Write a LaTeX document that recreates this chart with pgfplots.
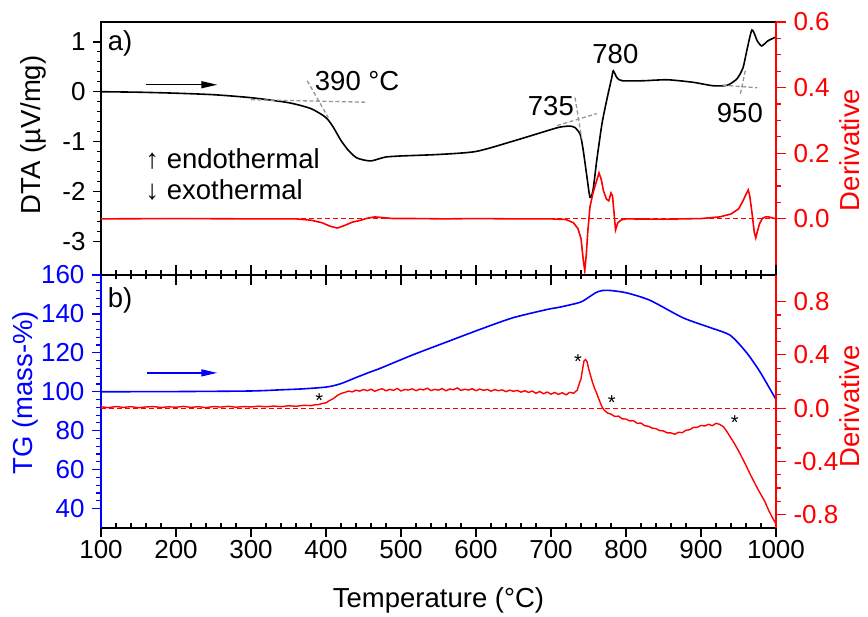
\documentclass[border=0pt]{standalone}
\usepackage{fontspec}
\setmainfont{Liberation Sans}
\usepackage{pgfplots}
\pgfplotsset{compat=1.18}
\usetikzlibrary{arrows.meta}
\definecolor{myred}{RGB}{255,0,0}
\definecolor{myblue}{RGB}{0,0,255}
\definecolor{dgray}{RGB}{150,150,150}
\tikzset{ann/.style={anchor=west, inner xsep=0pt, font=\fontsize{27.5}{32}\selectfont}}
\begin{document}
\begin{tikzpicture}[x=1pt,y=1pt]
\path[use as bounding box] (0,0) rectangle (868,617);
\pgfplotsset{
  every axis/.append style={scale only axis, width=675pt, height=253pt,
    xmin=100, xmax=1000,
    /pgf/number format/assume math mode=true,
    /pgf/number format/1000 sep={},
    tick label style={font=\fontsize{26}{30}\selectfont},
    label style={font=\fontsize{27.5}{32}\selectfont},
    axis line style={line width=1.3pt},
    every tick/.style={line width=1.2pt},
  },
}
% ---------- top panel: DTA (left) ----------
\begin{axis}[at={(101pt,342pt)}, anchor=south west,
  ymin=-3.68, ymax=1.4,
  xtick=\empty,
  ytick={-3,-2,-1,0,1}, minor y tick num=4,
  ytick pos=left, ytick align=outside,
  major tick length=8pt, minor tick length=4pt,
  yticklabel style={xshift=-4pt},
  ylabel={DTA (µV/mg)},
  ylabel style={at={(axis description cs:-0.1007,0.553)}, anchor=center},
]
\addplot[black, line width=1.6pt, smooth, tension=0.4] coordinates {
(100,0) (150,-0.01) (200,-0.03) (250,-0.06) (300,-0.12) (350,-0.22) (380,-0.34)
(400,-0.52) (410,-0.72) (420,-0.98) (430,-1.18) (440,-1.32) (450,-1.37) (460,-1.39)
(470,-1.35) (480,-1.31) (500,-1.29) (550,-1.26) (600,-1.20) (650,-0.99) (700,-0.76)
(712,-0.71) (725,-0.69) (732,-0.72) (739,-0.86) (743,-1.18) (748,-1.72) (752,-2.12)
(756,-1.98) (761,-1.38) (768,-0.64) (775,-0.12) (781,0.28) (783,0.42) (788,0.28)
(795,0.22) (823,0.22) (855,0.24) (889,0.19) (916,0.12) (935,0.13) (948,0.26)
(956,0.48) (961,0.82) (968,1.24) (975,1.02) (981,0.92) (989,1.02) (1000,1.1)
};
\addplot[dgray, line width=1.3pt, dash pattern=on 4pt off 2.5pt] coordinates {(300,-0.16) (452,-0.21)};
\addplot[dgray, line width=1.3pt, dash pattern=on 4pt off 2.5pt] coordinates {(375,0.22) (403,-0.52)};
\addplot[dgray, line width=1.3pt, dash pattern=on 4pt off 2.5pt] coordinates {(708,-0.68) (761,-0.44)};
\addplot[dgray, line width=1.3pt, dash pattern=on 4pt off 2.5pt] coordinates {(732,-0.12) (741,-0.94)};
\addplot[dgray, line width=1.3pt, dash pattern=on 4pt off 2.5pt] coordinates {(929,0.13) (975,0.08)};
\addplot[dgray, line width=1.3pt, dash pattern=on 4pt off 2.5pt] coordinates {(959,0.42) (952,-0.08)};
\draw[line width=1.3pt, -{Triangle[length=16pt,width=7pt]}] (axis cs:160,0.14) -- (axis cs:255,0.14);
\node[ann] at (axis cs:109,0.98) {a)};
\node[ann] at (axis cs:385,0.22) {390 °C};
\node[ann] at (axis cs:669,-0.28) {735};
\node[ann] at (axis cs:755,0.76) {780};
\node[ann] at (axis cs:921,-0.42) {950};
\node[ann] at (axis cs:159,-1.34) {↑ endothermal};
\node[ann] at (axis cs:159,-1.98) {↓ exothermal};
\end{axis}
% ---------- top panel: derivative (right) ----------
\begin{axis}[at={(101pt,342pt)}, anchor=south west,
  ymin=-0.171, ymax=0.6,
  axis x line=none, axis y line*=right,
  y axis line style={myred},
  ytick={0,0.2,0.4,0.6}, minor y tick num=3,
  ytick align=outside, major tick length=10pt, minor tick length=5pt,
  y tick style={myred}, y tick label style={myred},
  yticklabel style={xshift=4pt, /pgf/number format/.cd, fixed, fixed zerofill, precision=1},
  ylabel={Derivative}, ylabel style={myred, at={(axis description cs:1.1096,0.494)}, anchor=center},
]
\addplot[myred, line width=1pt, dash pattern=on 5pt off 3pt] coordinates {(100,0) (1000,0)};
\addplot[myred, line width=1.6pt] coordinates {
(100,0) (200,0.001) (300,0) (360,0) (380,-0.004) (395,-0.012) (405,-0.022) (415,-0.028)
(425,-0.02) (435,-0.01) (445,-0.005) (455,0.002) (465,0.006) (475,0.004) (490,0.001)
(520,0.001) (560,0) (600,0.001) (650,0) (700,0) (720,-0.002) (730,-0.012) (736,-0.03)
(740,-0.06) (743,-0.125) (745,-0.158) (747,-0.11) (749,-0.04) (752,0.037) (756,0.079)
(760,0.11) (764,0.14) (767,0.12) (770,0.085) (774,0.06) (777,0.055) (780,0.079)
(782,0.07) (784,0.02) (786,-0.034) (789,-0.012) (794,-0.003) (800,0) (850,-0.001)
(900,0.001) (925,0.006) (940,0.015) (950,0.03) (956,0.055) (960,0.075) (963,0.088)
(965,0.07) (968,0.018) (971,-0.04) (973,-0.058) (975,-0.04) (978,-0.015) (982,0.002)
(986,0.006) (990,0.006) (995,0.003) (1000,0)
};
\end{axis}
% ---------- top panel: x ticks on the shared line ----------
\begin{axis}[at={(101pt,342pt)}, anchor=south west,
  ymin=0, ymax=1,
  axis x line*=bottom, axis y line=none,
  xtick={100,200,...,1000}, minor x tick num=4, xticklabels={},
  xtick align=center, major tick length=20pt, minor tick length=9pt,
]
\end{axis}
% ---------- bottom panel: TG (left) ----------
\begin{axis}[at={(101pt,89pt)}, anchor=south west,
  ymin=30, ymax=160,
  axis x line*=bottom, axis y line*=left,
  y axis line style={myblue},
  xtick={100,200,...,1000}, minor x tick num=4,
  ytick={40,60,...,160}, minor y tick num=4,
  tick align=outside, major tick length=9pt, minor tick length=4.5pt,
  minor x tick style={yshift=4.5pt},
  y tick style={myblue}, y tick label style={myblue},
  yticklabel style={xshift=-4pt},
  xlabel={Temperature (°C)},
  xlabel style={at={(axis description cs:0.5,-0.316)}, anchor=base},
  ylabel={TG (mass-\%)},
  ylabel style={myblue, at={(axis description cs:-0.1126,0.534)}, anchor=center},
]
\addplot[myblue, line width=1.6pt, smooth, tension=0.4] coordinates {
(100,100) (200,100.1) (300,100.4) (340,101) (365,101.4) (385,101.9) (400,102.4)
(410,103.1) (420,104.2) (430,105.7) (440,107.3) (450,108.8) (460,110.3) (472,112)
(516,119) (561,125.6) (605,132) (649,138)
(695,142.3) (712,143.5) (739,146) (752,149) (760,151) (768,152) (780,152)
(801,150.8) (832,147) (876,138) (912,133) (939,129) (961,120) (979,110) (1000,96)
};
\draw[line width=1.3pt, myblue, -{Triangle[length=16pt,width=7pt]}] (axis cs:161,109.7) -- (axis cs:255,109.7);
\node[ann] at (axis cs:109,147.2) {b)};
\end{axis}
% ---------- bottom panel: derivative (right) ----------
\begin{axis}[at={(101pt,89pt)}, anchor=south west,
  ymin=-0.9, ymax=1.0,
  axis x line=none, axis y line*=right,
  y axis line style={myred},
  ytick={-0.8,-0.4,0,0.4,0.8}, minor y tick num=3,
  ytick align=outside, major tick length=10pt, minor tick length=5pt,
  y tick style={myred}, y tick label style={myred},
  yticklabel style={xshift=4pt, /pgf/number format/.cd, fixed, fixed zerofill, precision=1},
  ylabel={Derivative}, ylabel style={myred, at={(axis description cs:1.1096,0.48)}, anchor=center},
]
\addplot[myred, line width=1pt, dash pattern=on 5pt off 3pt] coordinates {(100,0) (1000,0)};
\addplot[myred, line width=1.4pt] coordinates {
(100,0.010) (110,0.004) (120,0.012) (130,0.006) (140,0.011) (150,0.003) (160,0.009)
(170,0.012) (180,0.005) (190,0.010) (200,0.007) (210,0.013) (220,0.006) (230,0.011)
(240,0.004) (250,0.012) (260,0.008) (270,0.014) (280,0.007) (290,0.012) (300,0.009)
(310,0.015) (320,0.010) (330,0.016) (340,0.011) (350,0.018) (360,0.014) (370,0.021)
(380,0.019) (385,0.025) (390,0.027) (395,0.035) (400,0.040) (405,0.058) (410,0.072)
(415,0.095) (420,0.110) (425,0.118) (430,0.128) (435,0.122) (440,0.135) (445,0.128)
(450,0.140) (455,0.131) (460,0.142) (465,0.127) (470,0.138) (475,0.146) (480,0.130)
(485,0.141) (490,0.134) (495,0.148) (500,0.129) (505,0.140) (510,0.136) (515,0.145)
(520,0.131) (525,0.143) (530,0.137) (535,0.150) (540,0.132) (545,0.141) (550,0.135)
(555,0.147) (560,0.130) (565,0.144) (570,0.138) (575,0.152) (580,0.133) (585,0.142)
(590,0.136) (595,0.146) (600,0.131) (605,0.143) (610,0.134) (615,0.140) (620,0.128)
(625,0.139) (630,0.131) (635,0.137) (640,0.124) (645,0.135) (650,0.127) (655,0.133)
(660,0.120) (665,0.131) (670,0.118) (675,0.128) (680,0.112) (685,0.125) (690,0.108)
(695,0.121) (700,0.105) (705,0.118) (710,0.103) (715,0.116) (720,0.100) (725,0.119)
(730,0.112) (735,0.135) (738,0.190) (740,0.220) (742,0.290) (744,0.355) (746,0.365)
(748,0.350) (750,0.300) (752,0.260) (755,0.200) (758,0.150) (761,0.110) (765,0.050)
(768,0.010) (771,-0.015) (775,-0.035) (780,-0.045) (785,-0.062) (790,-0.060)
(795,-0.080) (800,-0.082) (805,-0.096) (810,-0.094) (815,-0.114) (820,-0.112)
(825,-0.132) (830,-0.136) (835,-0.150) (840,-0.154) (845,-0.169) (850,-0.171)
(855,-0.186) (860,-0.186) (865,-0.196) (870,-0.181) (875,-0.184) (880,-0.166)
(885,-0.162) (890,-0.144) (895,-0.144) (900,-0.130) (905,-0.134) (910,-0.121)
(915,-0.132) (920,-0.114) (925,-0.122) (930,-0.140) (935,-0.180) (940,-0.225)
(945,-0.270) (950,-0.320) (955,-0.375) (960,-0.430) (965,-0.490) (970,-0.545)
(975,-0.600) (980,-0.650) (985,-0.700) (990,-0.765) (995,-0.820) (1000,-0.870)
};
\node[font=\fontsize{20}{24}\selectfont, yshift=-4pt] at (axis cs:391,0.083) {*};
\node[font=\fontsize{20}{24}\selectfont, yshift=-4pt] at (axis cs:736,0.377) {*};
\node[font=\fontsize{20}{24}\selectfont, yshift=-4pt] at (axis cs:781,0.068) {*};
\node[font=\fontsize{20}{24}\selectfont, yshift=-4pt] at (axis cs:945,-0.075) {*};
\end{axis}
\end{tikzpicture}
\end{document}
